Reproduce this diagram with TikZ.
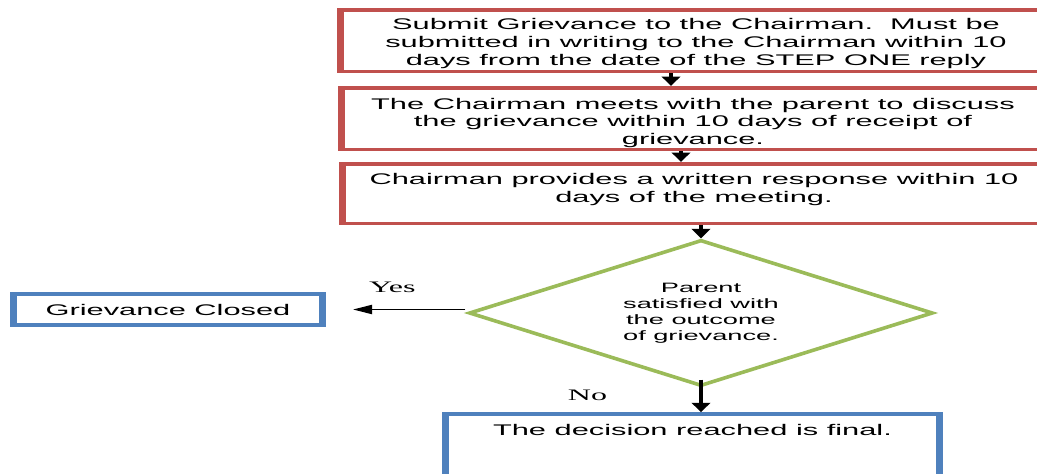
\documentclass[tikz,border=0pt]{standalone}
\usepackage{fontspec}
\setmainfont{Liberation Sans}
\newfontfamily\answerfont{Liberation Serif}
\usetikzlibrary{shapes.geometric, arrows.meta, positioning}
\definecolor{stepred}{HTML}{C0504D}
\definecolor{closeblue}{HTML}{4F81BD}
\definecolor{askgreen}{HTML}{9BBB59}

\begin{document}
\begin{tikzpicture}[x = 1pt, y = -1pt,
		redbox/.style = {draw = stepred, line width = 3.5pt, minimum width = 351.5pt, minimum height = 61.5pt, inner sep = 0pt},
		bluebox/.style = {draw = closeblue, line width = 3.5pt, inner sep = 0pt, font = \fontsize{15.4}{17.8}\selectfont},
		boxtext/.style = {inner sep = 0pt, align = center, font = \fontsize{15.4}{17.8}\selectfont},
		question/.style = {diamond, draw = askgreen, line width = 3.2pt, aspect = 1.6, minimum width = 232.5pt, minimum height = 146pt, inner sep = 0pt, align = center, font = \fontsize{13.6}{16}\selectfont},
		flow/.style = {line width = 1.9pt, -{Triangle[width = 9pt, length = 9.5pt]}},
		answer/.style = {inner sep = 0pt, font = \answerfont\fontsize{16}{18}\selectfont}]
		
		\useasboundingbox (0,0) rectangle (1037,474);
		\begin{scope} [transform canvas = {xscale = 2}]
		\node [redbox, minimum width = 355.5pt] (submit) at (348, 40.5) {};
		\node [boxtext, below = 10.6pt of submit.north] (submittext) {Submit Grievance to the Chairman.\ \ Must be\\ submitted in writing to the Chairman within 10\\ days from the date of the STEP ONE reply};
		\node [redbox] (meet) at (346.5, 118.5) {};
		\node [boxtext, below = 11.7pt of meet.north] (meettext) {The Chairman meets with the parent to discuss\\ the grievance within 10 days of receipt of\\ grievance.};
		\node [redbox, minimum height = 59.5pt] (respond) at (347, 193.5) {};
		\node [boxtext, below = 11.3pt of respond.north] (respondtext) {Chairman provides a written response within 10\\ days of the meeting.};
		
		\node [question] (satisfied) at (350.5, 313) {Parent\\ satisfied with\\ the outcome\\ of grievance.};
		\node [bluebox, minimum width = 154.5pt, minimum height = 31pt] (closed) at (84, 309.5) {Grievance Closed};
		\node [bluebox, minimum width = 247pt, minimum height = 80pt] (final) at (346.25, 454) {};
		\node [boxtext, below = 12pt of final.north] (finaltext) {The decision reached is final.};
		
		\draw [flow] ([xshift = -12.5pt]submit.south) -- ([xshift = -11pt]meet.north);
		\draw [flow] ([xshift = -6pt]meet.south) -- ([xshift = -6.5pt]respond.north);
		\draw [flow] (satisfied.north |- respond.south) -- (satisfied.north);
		\draw [flow] (satisfied.west |- closed.east) -- node [answer, pos = .65, above = 16pt] (yes) {Yes} ([xshift = 13.5pt]closed.east);
		\draw [flow] ([yshift = 8pt]satisfied.south) -- node [answer, pos = .48, left = 46pt] (no) {No} (final.north -| satisfied.south);
		\end{scope}
		
		\end{tikzpicture}
\end{document}
